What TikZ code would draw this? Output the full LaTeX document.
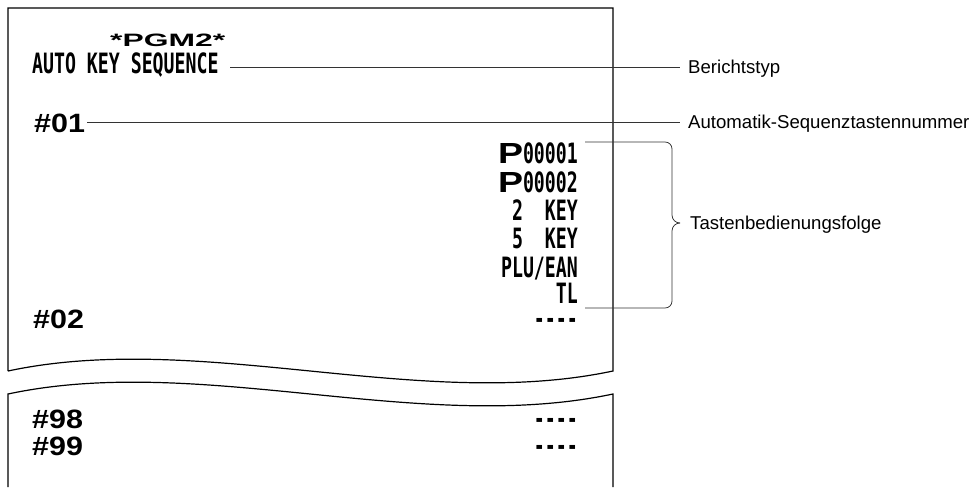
\documentclass[tikz,border=0pt]{standalone}
\usepackage{fontspec}
\usepackage{graphicx}
\setmainfont{Liberation Sans}
\newfontfamily\rcptfamily[FakeStretch=0.65]{DejaVu Sans Mono}
\newfontfamily\widefamily[FakeStretch=1.15]{Liberation Sans}
\newcommand\rcptfnt{\rcptfamily\bfseries\fontsize{28}{32}\selectfont}
\newcommand\widefnt{\widefamily\bfseries\fontsize{26.5}{30}\selectfont}
\newcommand\labfnt{\fontsize{18.6}{22}\selectfont}
\newcommand\fourdash{-\kern0pt-\kern0pt-\kern0pt-}
\newcommand\bigP{\resizebox{25pt}{20pt}{\widefamily\bfseries P}}
\begin{document}
\begin{tikzpicture}[x=1pt,y=-1pt,
  paper/.style={line width=1.2pt, line join=miter},
  leader/.style={line width=0.75pt, draw=black!80},
  rtxt/.style={inner sep=0pt, font=\rcptfnt},
  coltxt/.style={rtxt, anchor=base east},
  wtxt/.style={inner sep=0pt, anchor=base west, font=\widefnt},
  ltxt/.style={inner sep=0pt, anchor=base west, font=\labfnt}]
\useasboundingbox (0,0) rectangle (973,487);
% receipt pieces
\draw[paper] (8,371) -- (8,8) -- (613,8) -- (613,371)
  .. controls (420,412) and (200,330) .. (8,371);
\draw[paper] (8,487) -- (8,394)
  .. controls (200,353) and (420,435) .. (613,394) -- (613,487);
% receipt texts
\node[inner sep=0pt, anchor=base west] (pgm) at (110,47)
  {\resizebox{115pt}{12.5pt}{\widefamily\bfseries *PGM2*}};
\node[rtxt, anchor=base west] (auto) at (32,73) {AUTO KEY SEQUENCE};
\node[wtxt] (n01) at (34,132) {\#01};
\node[coltxt] (p1) at (578,163) {\bigP 00001};
\node[coltxt] (p2) at (578,192) {\bigP 00002};
\node[coltxt] (k2) at (578,220) {2\phantom{00}KEY};
\node[coltxt] (k5) at (578,248) {5\phantom{00}KEY};
\node[coltxt] (plu) at (578,277) {PLU/EAN};
\node[coltxt] (tl) at (578,303) {TL};
\node[wtxt] (n02) at (33,328) {\#02};
\node[coltxt] (d02) at (578,328) {\fourdash};
\node[wtxt] (n98) at (32,428) {\#98};
\node[coltxt] (d98) at (578,428) {\fourdash};
\node[wtxt] (n99) at (32,455) {\#99};
\node[coltxt] (d99) at (578,455) {\fourdash};
% labels
\node[ltxt] (berich) at (688,73.5) {Berichtstyp};
\node[ltxt] (autonum) at (688,128.5) {Automatik-Sequenztastennummer};
\node[ltxt] (tasten) at (690,229.5) {Tastenbedienungsfolge};
% leaders
\coordinate (la) at (230,67);
\coordinate (lb) at (680,67);
\coordinate (ma) at (87,122);
\coordinate (mb) at (680,122);
\draw[leader] (la) -- (lb);
\draw[leader] (ma) -- (mb);
% brace
\coordinate (bt) at (585,142);
\coordinate (bb) at (585,308);
\coordinate (tip) at (680,223);
\draw[leader] (bt) -- (665,142) .. controls (669,142) and (672,145) .. (672,149)
  -- (672,215) .. controls (672,220) and (676,223) .. (tip);
\draw[leader] (bb) -- (665,308) .. controls (669,308) and (672,305) .. (672,301)
  -- (672,231) .. controls (672,226) and (676,223) .. (tip);
\end{tikzpicture}
\end{document}
